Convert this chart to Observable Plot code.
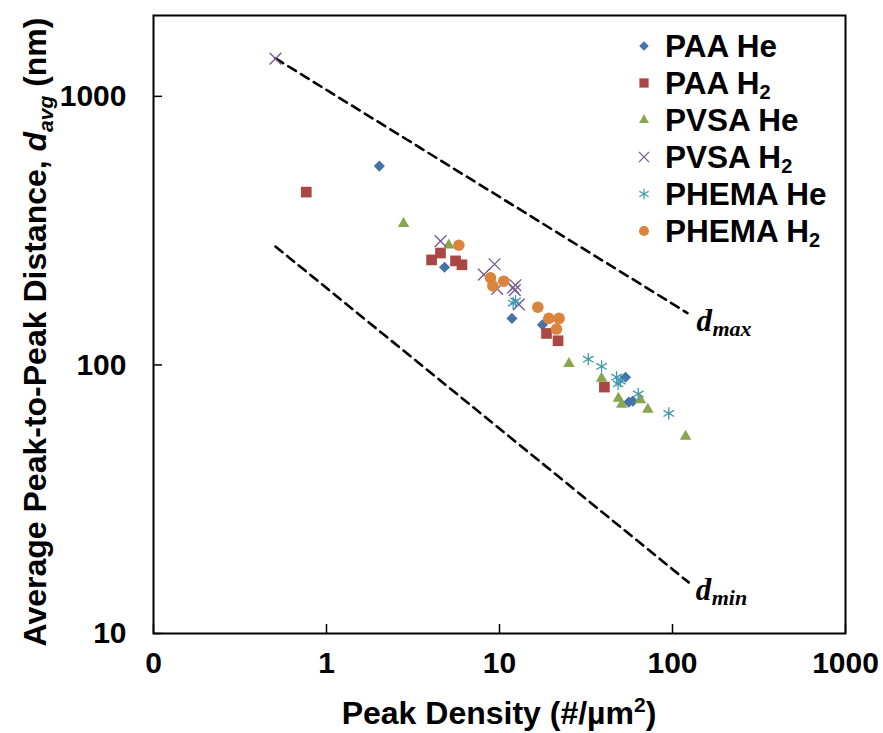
<!DOCTYPE html>
<html><head><meta charset="utf-8">
<script src="https://cdn.jsdelivr.net/npm/d3@7"></script>
<script src="https://cdn.jsdelivr.net/npm/@observablehq/plot@0.6"></script>
<style>body{margin:0;background:#fff}#chart{width:883px;height:733px}</style>
</head><body><div id="chart"></div>
<script>
// ---- data ----
const seriesNames = ["PAA He", "PAA H2", "PVSA He", "PVSA H2", "PHEMA He", "PHEMA H2"];

const paaHeX = [2.02, 4.81, 11.8, 17.7, 53.5, 55.9, 59.0];
const paaHeY = [550, 231, 149, 141, 90, 72.7, 73.3];

const paaH2X = [0.764, 4.56, 4.05, 5.57, 6.07, 18.7, 21.8, 40.4];
const paaH2Y = [440, 261, 246, 244, 236, 131, 123, 82.7];

const pvsaHeX = [2.79, 5.09, 25.2, 38.9, 48.7, 50.9, 65.3, 72.0, 119];
const pvsaHeY = [336, 279, 101, 89, 75, 71.3, 74, 68.3, 54.2];

const pvsaH2X = [0.507, 4.56, 9.36, 8.12, 9.70, 12.37, 12.26, 11.97, 12.93];
const pvsaH2Y = [1381, 289, 237, 217, 192, 198, 190, 194, 168];

const phemaHeX = [11.99, 12.37, 32.6, 38.9, 47.5, 50.0, 48.5, 63.4, 95.2];
const phemaHeY = [170, 173, 105, 98.7, 90, 87, 85, 78, 66];

const phemaH2X = [5.82, 8.87, 9.15, 10.59, 16.65, 19.28, 22.1, 21.35];
const phemaH2Y = [279, 211, 197, 205, 164, 149, 149, 136];

const dmaxX = [0.507, 122];
const dmaxY = [1385, 156];
const dminX = [0.507, 124];
const dminY = [276, 15.5];

const xTicks = [0.1, 1, 10, 100, 1000];
const yTicks = [10, 100, 1000];

// ---- styling ----
const W = 883, H = 733;
const M = {top: 15, right: 38, bottom: 100, left: 153};
const FONT = 'Arial, "Liberation Sans", sans-serif';
const SERIF = '"Times New Roman", "Liberation Serif", serif';

const styles = [
  {symbol: "diamond2", r: 5.0, color: "#4572a7", filled: true},
  {symbol: "square2", r: 6.8, color: "#aa4643", filled: true},
  {symbol: "triangle2", r: 5.5, color: "#89a54e", filled: true},
  {symbol: "times", r: 5.4, color: "#71588f", filled: false},
  {symbol: "asterisk", r: 5.8, color: "#4198af", filled: false},
  {symbol: "circle", r: 5.8, color: "#db843d", filled: true}
];
const seriesX = [paaHeX, paaH2X, pvsaHeX, pvsaH2X, phemaHeX, phemaH2X];
const seriesY = [paaHeY, paaH2Y, pvsaHeY, pvsaH2Y, phemaHeY, phemaH2Y];

const series = seriesNames.map((name, i) => ({
  name, ...styles[i],
  data: seriesX[i].map((x, j) => ({x, y: seriesY[i][j]}))
}));

const toPts = (xs, ys) => xs.map((x, i) => ({x, y: ys[i]}));

const dotMarks = series.map(s => Plot.dot(s.data, {
  x: "x", y: "y", symbol: s.symbol, r: s.r,
  ...(s.filled ? {fill: s.color, stroke: "none"} : {stroke: s.color, strokeWidth: 1.3, fill: "none"})
}));

const plotH = H - M.top - M.bottom, plotW = W - M.left - M.right;

const plot = Plot.plot({
  width: W, height: H,
  marginTop: M.top, marginRight: M.right, marginBottom: M.bottom, marginLeft: M.left,
  style: {fontFamily: FONT, fontSize: "30px", fontWeight: "bold", color: "black", background: "white"},
  x: {type: "log", domain: [0.1, 1000]},
  y: {type: "log", domain: [10, 2000]},
  marks: [
    Plot.line(toPts(dmaxX, dmaxY), {x: "x", y: "y", stroke: "black", strokeWidth: 2.6, strokeDasharray: "9,6"}),
    Plot.line(toPts(dminX, dminY), {x: "x", y: "y", stroke: "black", strokeWidth: 2.6, strokeDasharray: "9,6"}),
    ...dotMarks,
    Plot.tickX(xTicks, {x: d => d, insetTop: plotH - 9, stroke: "black", strokeWidth: 1.5}),
    Plot.tickY(yTicks, {y: d => d, insetRight: plotW - 9, stroke: "black", strokeWidth: 1.5}),
    Plot.frame({stroke: "black", strokeWidth: 2}),
    Plot.axisX({ticks: xTicks, tickSize: 0, tickPadding: 18, label: null,
      tickFormat: d => d < 1 ? "0" : String(d), fontSize: 30, fontWeight: "bold"}),
    Plot.axisY({ticks: yTicks, tickSize: 0, tickPadding: 27, label: null,
      tickFormat: d => String(d), fontSize: 30, fontWeight: "bold"}),
    // d_max / d_min labels
    Plot.text([{x: dmaxX[1], y: dmaxY[1]}], {x: "x", y: "y", text: () => "d", textAnchor: "start",
      dx: 9, dy: 8, fontFamily: SERIF, fontStyle: "italic", fontWeight: "bold", fontSize: 31}),
    Plot.text([{x: dmaxX[1], y: dmaxY[1]}], {x: "x", y: "y", text: () => "max", textAnchor: "start",
      dx: 25, dy: 16, fontFamily: SERIF, fontStyle: "italic", fontWeight: "bold", fontSize: 22}),
    Plot.text([{x: dminX[1], y: dminY[1]}], {x: "x", y: "y", text: () => "d", textAnchor: "start",
      dx: 7, dy: 8, fontFamily: SERIF, fontStyle: "italic", fontWeight: "bold", fontSize: 31}),
    Plot.text([{x: dminX[1], y: dminY[1]}], {x: "x", y: "y", text: () => "min", textAnchor: "start",
      dx: 23, dy: 16, fontFamily: SERIF, fontStyle: "italic", fontWeight: "bold", fontSize: 22})
  ]
});

document.getElementById("chart").appendChild(plot);

// ---- axis titles and legend ----
const svg = d3.select(plot);

// x title
const xt = svg.append("text")
  .attr("x", 499).attr("y", 724)
  .attr("text-anchor", "middle").attr("font-family", FONT).attr("font-weight", "bold")
  .attr("font-size", 32).attr("fill", "black");
xt.append("tspan").text("Peak Density (#/µm");
xt.append("tspan").attr("font-size", 21).attr("dy", -12).text("2");
xt.append("tspan").attr("dy", 12).text(")");

// y title
const yt = svg.append("text")
  .attr("transform", `translate(46,${M.top + plotH / 2 + 8}) rotate(-90)`)
  .attr("text-anchor", "middle").attr("font-family", FONT).attr("font-weight", "bold")
  .attr("font-size", 32).attr("fill", "black");
yt.append("tspan").text("Average Peak-to-Peak Distance, ");
yt.append("tspan").attr("font-style", "italic").text("d");
yt.append("tspan").attr("font-style", "italic").attr("font-size", 21).attr("dy", 7).text("avg");
yt.append("tspan").attr("dy", -7).text(" (nm)");

// legend
const symMap = {diamond2: d3.symbolDiamond2, square2: d3.symbolSquare2, triangle2: d3.symbolTriangle2,
  times: d3.symbolTimes, asterisk: d3.symbolAsterisk, circle: d3.symbolCircle};
const lg = svg.append("g").attr("font-family", FONT).attr("font-weight", "bold").attr("text-anchor", "start");
series.forEach((s, i) => {
  const cy = 46 + i * 37;
  lg.append("path")
    .attr("transform", `translate(644,${cy})`)
    .attr("d", d3.symbol(symMap[s.symbol], Math.PI * s.r * s.r * 0.75)())
    .attr("fill", s.filled ? s.color : "none")
    .attr("stroke", s.filled ? "none" : s.color)
    .attr("stroke-width", 1.2);
  const t = lg.append("text").attr("x", 665).attr("y", cy + 11).attr("font-size", 31.5)
    .attr("fill", "black").attr("text-anchor", "start");
  if (s.name.endsWith("H2")) {
    t.append("tspan").text(s.name.slice(0, -1));
    t.append("tspan").attr("font-size", 20).attr("dy", 5).text("2");
  } else {
    t.text(s.name);
  }
});
</script></body></html>
